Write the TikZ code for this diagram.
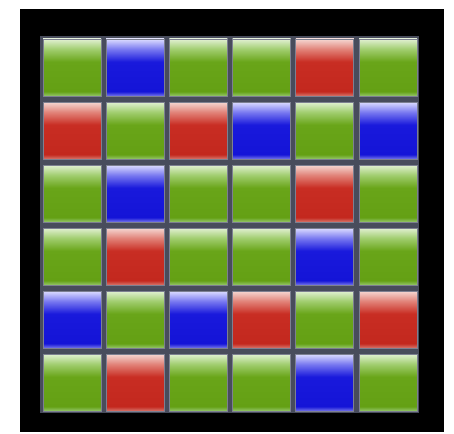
\documentclass[tikz,border=0pt]{standalone}
\usetikzlibrary{shadings}
\definecolor{gapgray}{RGB}{72,76,92}
\definecolor{edgegray}{RGB}{125,128,145}
\pgfdeclareverticalshading{cellG}{100bp}{
  color(0bp)=(rgb,255:red,150;green,200;blue,110);
  color(25bp)=(rgb,255:red,150;green,200;blue,110);
  color(29bp)=(rgb,255:red,100;green,160;blue,20);
  color(55bp)=(rgb,255:red,105;green,165;blue,25);
  color(66bp)=(rgb,255:red,160;green,205;blue,110);
  color(75bp)=(rgb,255:red,225;green,240;blue,210);
  color(100bp)=(rgb,255:red,225;green,240;blue,210)}
\pgfdeclareverticalshading{cellB}{100bp}{
  color(0bp)=(rgb,255:red,120;green,120;blue,235);
  color(25bp)=(rgb,255:red,120;green,120;blue,235);
  color(29bp)=(rgb,255:red,20;green,20;blue,215);
  color(55bp)=(rgb,255:red,25;green,25;blue,220);
  color(66bp)=(rgb,255:red,120;green,120;blue,240);
  color(75bp)=(rgb,255:red,220;green,220;blue,255);
  color(100bp)=(rgb,255:red,220;green,220;blue,255)}
\pgfdeclareverticalshading{cellR}{100bp}{
  color(0bp)=(rgb,255:red,215;green,120;blue,110);
  color(25bp)=(rgb,255:red,215;green,120;blue,110);
  color(29bp)=(rgb,255:red,195;green,40;blue,30);
  color(55bp)=(rgb,255:red,200;green,45;blue,35);
  color(66bp)=(rgb,255:red,225;green,130;blue,120);
  color(75bp)=(rgb,255:red,245;green,215;blue,210);
  color(100bp)=(rgb,255:red,245;green,215;blue,210)}
\tikzset{cellbox/.style={draw=edgegray, line width=0.8pt}}
\begin{document}
\begin{tikzpicture}[x=1pt,y=-1pt]
  \useasboundingbox (0,0) rectangle (454,433);
  \fill[white] (0,0) rectangle (454,433);
  \fill[black] (20,9) rectangle (444,432);
  \fill[gapgray] (40,36) rectangle (419,413);
  \foreach \row [count=\j from 0] in {
      {G,B,G,G,R,G},
      {R,G,R,B,G,B},
      {G,B,G,G,R,G},
      {G,R,G,G,B,G},
      {B,G,B,R,G,R},
      {G,R,G,G,B,G}}{
    \foreach \c [count=\i from 0] in \row {
      \pgfmathsetmacro{\xx}{43+63.2*\i}
      \pgfmathsetmacro{\yy}{39+63*\j}
      \shade[shading=cell\c, cellbox] (\xx,\yy) rectangle ++(58,57);
    }
  }
\end{tikzpicture}
\end{document}
